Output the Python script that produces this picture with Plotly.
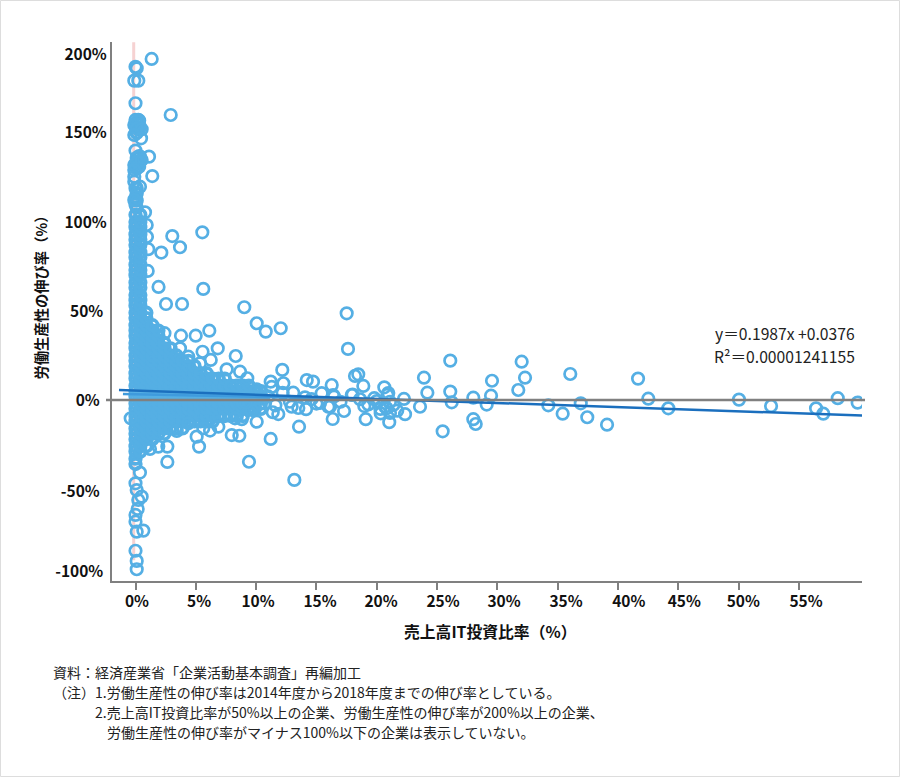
import plotly.graph_objects as go

# Scattered firms (IT investment ratio %, productivity growth %)
outlier_x = [1.34,0.0,0.10,-0.1,0.23,0,2.92,0,0.23,-0.1,0.1,0.51,-0.1,0.46,0,1.12,0.37,0.1,-0.1,0.51,1.39,-0.1,-0.1,-0.1,0,0.37,0.04,0,-0.1,0.79,0.93,0.95,1.06,1.01,
 5.54,3.05,3.69,2.14,1.91,5.62,2.53,3.86,9.02,10.05,10.8,12.04,17.51,17.62,6.12,2.40,3.77,4.99,6.82,8.31,5.56,6.24,4.38,5.35,3.69,7.56,8.67,9.27,11.21,11.29,12.17,12.26,14.2,14.72,16.27,10.05,13.08,14.05,15.44,16.38,17.93,18.2,18.47,18.89,16.46,18.62,20,20.63,20.88,22.26,23.59,23.92,24.2,26.1,26.1,26.22,28.01,29.12,29.48,29.56,31.74,32.02,32.3,34.23,36.05,36.92,41.67,42.52,44.18,50.04,52.7,56.43,57.03,58.23,59.88,
 35.42,37.46,39.1,28.01,28.21,25.47,16.13,16.35,17.29,19.09,18.97,20.33,21.04,22.35,21.1,20.69,21.38,20.96,20.83,21.1,10.05,8.81,8.25,7.98,8.61,11.21,13.56,11.38,11.84,12.95,14.14,15.99,15.3,10.74,9.64,9.16,
 2.64,2.64,5.07,5.27,9.41,13.17,6.18,3.42,6.87,5.62,4.38,1.89,1.2,-0.4,0.37,0,0.1,0.51,0.23,0.18,0,0,0.1,0.65,0,0.1,0.1,
 11.0,11.6,12.2,12.8,13.5,14.6,15.0,17.0,18.0,19.3,19.8,20.3,21.7]
outlier_y = [191.6,187.2,186.3,179.4,179.4,166.7,160.1,157.3,157.3,154.5,152.6,152.1,148.9,147.0,140.1,136.7,136.7,133.9,132,134.8,125.8,129.2,125.4,122.6,118.9,119.8,114,109.6,112.4,105.4,98.3,91.7,84.7,72.5,
 94.2,92.1,85.8,82.8,63.5,62.4,53.9,53.9,52.1,43.1,38.4,40.3,48.7,28.7,38.9,37.5,36.1,36.1,29,24.7,27.1,22.5,24.3,20.6,29,17.2,15.9,12.2,10.3,7.3,16.9,9.4,11.2,10.3,8.4,6,4.1,1.5,3.8,2.8,2.8,13.5,14.4,7.9,1.9,0.4,-0.6,7.1,2.8,0.6,-3.8,12.5,4.1,22.1,4.7,-1.3,1.3,-2.6,2.4,10.8,5.6,21.5,12.5,-3,14.6,-1.9,12,0.7,-4.7,0.2,-3.4,-4.7,-7.7,1,-1.5,
 -7.7,-9.7,-13.9,-10.8,-13.5,-17.6,-3.8,-10.7,-6.2,-10.8,-3.4,-7.5,-12.5,-8,-7.3,-3.8,-2.8,3.9,-4.7,-1,-12.2,-10.8,-10.3,-19.7,-20.1,-21.9,-15,-6.9,-7.9,-3.8,-5.2,-3.8,-1.7,-1.9,-5.6,-1.7,
 -26.2,-34.8,-20.6,-26.2,-34.7,-44.9,-17.2,-17.4,-15,-15.9,-13.1,-26.2,-27.5,-10.3,-40.8,-46.8,-50.6,-54.3,-56.2,-61.2,-64.6,-68.4,-74,-73.4,-84.7,-90.4,-95.1,
 2.0,-3.0,4.0,-1.0,-4.5,0.5,-2.0,-1.0,3.0,-2.5,1.0,-5.0,-6.0]

# Crowded firms near the origin: one x per column, with the growth values of that column
column_x = [0.0,0.1,0.3,0.4,0.9,1.4,1.9,2.4,2.9,3.4,3.9,4.4,4.9,5.4,5.9,6.4,6.9,7.4,7.9,8.4,8.9,9.4,9.9,10.4]
column_y = [
 [-36,-33,-29,-26,-22,-19,-16,-12,-9,-5,-2,2,5,8,12,15,19,22,25,29,32,36,39,42,46,49,53,56,59,63,66,70,73,76,80,83,87,90,93,97,100,104],
 [108,112,116,119,130,133,136,150,153,156],
 [131,134,137,152,155,157],
 [-29,-26,-22,-19,-16,-12,-9,-5,-2,2,5,8,12,15,19,22,25,29,32,36,39,42,46,49,53,56,59,63,66,70,73,76,80,83,87,90,93,97,100,104],
 [-26,-22,-19,-16,-12,-9,-5,-2,2,5,8,12,15,19,22,25,29,32,36,39,42,46,49],
 [-22,-19,-16,-12,-9,-5,-2,2,5,8,12,15,19,22,25,29,32,36,39,42],
 [-19,-16,-12,-9,-5,-2,2,5,8,12,15,19,22,25,29,32,36,39],
 [-19,-16,-12,-9,-5,-2,2,5,8,12,15,19,22,25,29,32],
 [-16,-12,-9,-5,-2,2,5,8,12,15,19,22,25,29],
 [-16,-12,-9,-5,-2,2,5,8,12,15,19,22,25],
 [-16,-12,-9,-5,-2,2,5,8,12,15,19,22],
 [-12,-9,-5,-2,2,5,8,12,15,19,22],
 [-12,-9,-5,-2,2,5,8,12,15,19],
 [-12,-9,-5,-2,2,5,8,12,15],
 [-12,-9,-5,-2,2,5,8,12,15],
 [-12,-9,-5,-2,2,5,8,12],
 [-9,-5,-2,2,5,8,12],
 [-9,-5,-2,2,5,8,12],
 [-9,-5,-2,2,5,8],
 [-9,-5,-2,2,5,8],
 [-9,-5,-2,2,5,8],
 [-5,-2,2,5,8],
 [-5,-2,2,5],
 [-5,-2,2,5],
]

trend_x = [-1.37, 60.45]
trend_y = [5.6, -8.8]
faint_trend_x = [-1.04, 20.0]
faint_trend_y = [3.4, 0.3]
pink_x = [-0.15, -0.15]
pink_y = [201, -90]

x_tick_marks = [0,5,10,15,20,25,30,35,40,45,50,55]
x_label_pos = [0.12,5.27,10.16,15.3,20.36,25.5,30.56,35.7,40.9,45.5,50.4,55.6]
x_labels = ["0%","5%","10%","15%","20%","25%","30%","35%","40%","45%","50%","55%"]
y_label_pos = [193.9,150.1,99.5,49.5,-0.5,-51.5,-96.5]
y_labels = ["200%","150%","100%","50%\u00a0","0%\u00a0\u00a0","-50%\u00a0\u00a0","-100%\u00a0"]

notes = [
 (51, 672, "資料：経済産業省「企業活動基本調査」再編加工"),
 (51, 692, "（注）"),
 (93, 692, "1.労働生産性の伸び率は2014年度から2018年度までの伸び率としている。"),
 (93, 712, "2.売上高IT投資比率が50%以上の企業、労働生産性の伸び率が200%以上の企業、"),
 (105, 732, "労働生産性の伸び率がマイナス100%以下の企業は表示していない。"),
]

FONT = "Noto Sans CJK JP"
BLUE = "#55AFE4"
GRAY = "#808080"
L, R, T, B = 112, 862, 42, 581
px = lambda v: (v - L) / (R - L)
py = lambda v: (B - v) / (B - T)

dense_x = [x for x, ys in zip(column_x, column_y) for _ in ys]
dense_y = [y for ys in column_y for y in ys]

ring = dict(symbol="circle-open", size=11.5, color=BLUE, line=dict(width=2.7, color=BLUE))
dense_ring = dict(symbol="circle-open", size=10.5, color=BLUE, line=dict(width=3.8, color=BLUE))
fig = go.Figure()
fig.add_trace(go.Scatter(x=pink_x, y=pink_y, mode="lines", line=dict(color="#F6D2D2", width=3), hoverinfo="skip"))
fig.add_trace(go.Scatter(x=dense_x, y=dense_y, mode="markers", marker=dense_ring))
fig.add_trace(go.Scatter(x=outlier_x, y=outlier_y, mode="markers", marker=ring))
fig.add_trace(go.Scatter(x=faint_trend_x, y=faint_trend_y, mode="lines", line=dict(color="#3F9BDD", width=2.5), cliponaxis=False))
fig.add_trace(go.Scatter(x=trend_x, y=trend_y, mode="lines", line=dict(color="#1B6FBE", width=2.5), cliponaxis=False))

ann = []
for x, y, t in notes:
    ann.append(dict(x=px(x), y=py(y), xref="paper", yref="paper", xanchor="left", yanchor="middle", showarrow=False,
                    text=t, font=dict(family=FONT, size=14, color="#222222")))
ann.append(dict(x=px(857), y=py(333), xref="paper", yref="paper", xanchor="right", yanchor="middle", showarrow=False,
                text="y＝0.1987x +0.0376", font=dict(family=FONT, size=15.7, color="#222222")))
ann.append(dict(x=px(857), y=py(356.5), xref="paper", yref="paper", xanchor="right", yanchor="middle", showarrow=False,
                text="R²＝0.00001241155", font=dict(family=FONT, size=15.7, color="#222222")))
ann.append(dict(x=px(490), y=py(631), xref="paper", yref="paper", xanchor="center", yanchor="middle", showarrow=False,
                text="<b>売上高IT投資比率（%）</b>", font=dict(family=FONT, size=15.8, color="#111111")))
ann.append(dict(x=px(39.5), y=py(294), xref="paper", yref="paper", xanchor="center", yanchor="middle", showarrow=False, textangle=-90,
                text="<b>労働生産性の伸び率（%）</b>", font=dict(family=FONT, size=14.3, color="#111111")))

shapes = [
    dict(type="line", xref="paper", yref="y", x0=px(106), x1=px(865), y0=0, y1=0, line=dict(color=GRAY, width=2.5), layer="above"),
    dict(type="rect", xref="paper", yref="paper", x0=px(0.5), x1=px(899.5), y0=py(776.5), y1=py(0.5), line=dict(color="#DDDDDD", width=1), layer="below"),
]

fig.update_layout(
    width=900, height=777, autosize=False, showlegend=False,
    paper_bgcolor="white", plot_bgcolor="white",
    margin=dict(l=L, r=900 - R, t=T, b=777 - B),
    font=dict(family=FONT, color="#111111"),
    annotations=ann, shapes=shapes,
    xaxis=dict(range=[-1.949, 60.24], showgrid=False, zeroline=False, showline=True, linecolor=GRAY, linewidth=2.2,
               tickmode="array", tickvals=x_label_pos, ticktext=x_labels, ticks="", ticklabelstandoff=5,
               tickfont=dict(family=FONT, size=15.5, color="#111111", weight="bold"),
               minor=dict(tickmode="array", tickvals=x_tick_marks, ticks="outside", ticklen=7, tickwidth=2.2, tickcolor=GRAY, showgrid=False)),
    yaxis=dict(range=[-101.7, 201.1], showgrid=False, zeroline=False, showline=True, linecolor=GRAY, linewidth=2.2,
               tickmode="array", tickvals=y_label_pos, ticktext=y_labels, ticks="",
               tickfont=dict(family=FONT, size=15.5, color="#111111", weight="bold")),
)
fig.write_html("out.html", config={"displayModeBar": False},
               post_script="document.body.style.margin='0';document.documentElement.style.overflow='hidden';")
